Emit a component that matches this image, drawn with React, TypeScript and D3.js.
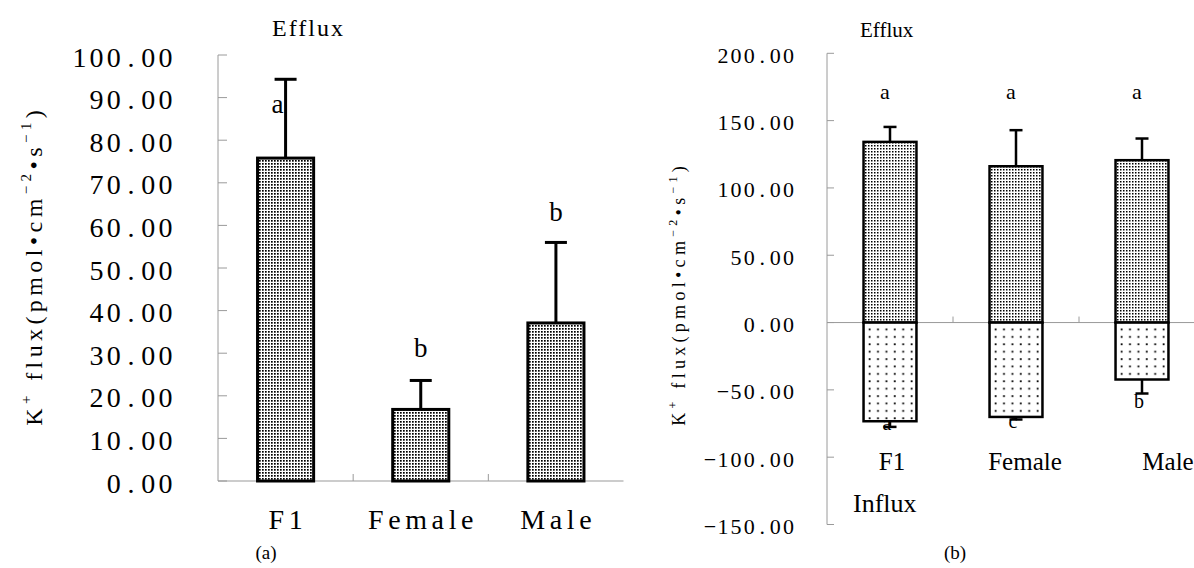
import React from "react";
import * as d3 from "d3";

// ---------- Data: panel (a) ----------
const categoriesA = ["F1", "Female", "Male"];
const effluxA = [75.8, 16.8, 37.1];
const effluxErrA = [18.5, 6.8, 18.9];
const lettersA = ["a", "b", "b"];
const letterValueA = [86.4, 29.2, 61.0];
const ticksA = [0, 10, 20, 30, 40, 50, 60, 70, 80, 90, 100];

// ---------- Data: panel (b) ----------
const categoriesB = ["F1", "Female", "Male"];
const effluxB = [134.2, 116.1, 120.6];
const effluxErrB = [11.1, 26.8, 16.1];
const influxB = [-73.3, -70.1, -42.3];
const influxErrB = [4.2, 1.9, 10.4];
const lettersBTop = ["a", "a", "a"];
const letterValueBTop = [165.9, 165.9, 165.9];
const lettersBBottom = ["a", "c", "b"];
const letterValueBBottom = [-79.5, -78.5, -63.7];
const ticksB = [200, 150, 100, 50, 0, -50, -100, -150];

const FONT = "Liberation Serif";
const fmt = d3.format(".2f");

type Seg = { t: string; sup?: boolean };
const yLabelSegs: Seg[] = [
  { t: "K" },
  { t: "+", sup: true },
  { t: " flux(pmol•cm" },
  { t: "−2", sup: true },
  { t: "•s" },
  { t: "−1", sup: true },
  { t: ")" },
];

function MonoText(props: {
  text: string;
  x: number;
  y: number;
  pitch: number;
  fontSize: number;
}) {
  const { text, x, y, pitch, fontSize } = props;
  const chars = Array.from(text);
  const n = chars.length;
  const xs = chars.map((_, i) => x - pitch * (n - i - 0.5));
  return (
    <text
      x={xs.join(" ")}
      y={y}
      textAnchor="middle"
      fontFamily={FONT}
      fontSize={fontSize}
      fill="#000"
    >
      {text}
    </text>
  );
}

function RotLabel(props: {
  bx: number;
  cy: number;
  fontSize: number;
  supSize: number;
  supShift: number;
  ls: number;
}) {
  const { bx, cy, fontSize, supSize, supShift, ls } = props;
  let cur = 0;
  return (
    <g transform={`translate(${bx + 0},${cy}) rotate(-90)`}>
      <text
        x={ls / 2}
        y={0}
        textAnchor="middle"
        fontFamily={FONT}
        fontSize={fontSize}
        letterSpacing={ls}
        fill="#000"
        style={{ whiteSpace: "pre" }}
      >
        {yLabelSegs.map((s, i) => {
          const target = s.sup ? -supShift : 0;
          const dy = target - cur;
          cur = target;
          return (
            <tspan key={i} dy={dy} fontSize={s.sup ? supSize : fontSize}>
              {s.t}
            </tspan>
          );
        })}
      </text>
    </g>
  );
}

export default function App() {
  // ---- panel (a) scales ----
  const xA = d3.scaleBand<string>().domain(categoriesA).range([218, 623.5]);
  const yA = d3.scaleLinear().domain([0, 100]).range([481, 55]);
  const bwA = xA.bandwidth() * 0.415;

  // ---- panel (b) scales ----
  const xB = d3.scaleBand<string>().domain(categoriesB).range([827, 1205]);
  const yB = d3.scaleLinear().domain([-150, 200]).range([524.5, 53.3]);
  const bwB = xB.bandwidth() * 0.42;
  const axisGray = "#9a9a9a";
  const labelShiftB = [2, 9, 26];
  const lsX = 4.6;

  return (
    <svg
      width={1194}
      height={568}
      style={{ position: "absolute", left: 0, top: 0, background: "#fff" }}
    >
      <defs>
        <pattern id="denseA" width={3} height={3} patternUnits="userSpaceOnUse">
          <rect width={3} height={3} fill="#fff" />
          <rect x={1} y={1} width={1.7} height={1.7} fill="#000" />
        </pattern>
        <pattern id="denseB" width={3} height={3} patternUnits="userSpaceOnUse">
          <rect width={3} height={3} fill="#fff" />
          <rect x={1} y={1} width={1.5} height={1.5} fill="#000" />
        </pattern>
        <pattern id="sparseB" width={8.4} height={7.4} patternUnits="userSpaceOnUse">
          <rect width={8.4} height={7.4} fill="#fff" />
          <rect x={3.5} y={3} width={1.8} height={1.8} fill="#000" />
        </pattern>
      </defs>

      {/* ================= Panel (a) ================= */}
      <text x={272} y={36} fontFamily={FONT} fontSize={24} letterSpacing={2}>
        Efflux
      </text>
      {/* y axis */}
      <line x1={218} x2={218} y1={yA(100)} y2={yA(0)} stroke={axisGray} strokeWidth={1} />
      {ticksA.map((t) => (
        <g key={t}>
          <line x1={218} x2={227} y1={yA(t)} y2={yA(t)} stroke={axisGray} strokeWidth={1} />
          <MonoText text={fmt(t)} x={174} y={yA(t) + 11.5} pitch={17.2} fontSize={28} />
        </g>
      ))}
      {/* x axis */}
      <line x1={218} x2={623.5} y1={yA(0)} y2={yA(0)} stroke={axisGray} strokeWidth={1.2} />
      {categoriesA.slice(1).map((c) => (
        <line
          key={c}
          x1={xA(c)!}
          x2={xA(c)!}
          y1={yA(0)}
          y2={yA(0) - 7}
          stroke={axisGray}
          strokeWidth={1}
        />
      ))}
      {categoriesA.map((c, i) => {
        const cx = xA(c)! + xA.bandwidth() / 2;
        const top = yA(effluxA[i]);
        const errTop = yA(effluxA[i] + effluxErrA[i]);
        return (
          <g key={c}>
            <line x1={cx} x2={cx} y1={top} y2={errTop} stroke="#000" strokeWidth={3} />
            <line x1={cx - 11} x2={cx + 11} y1={errTop} y2={errTop} stroke="#000" strokeWidth={3} />
            <rect
              x={cx - bwA / 2}
              y={top}
              width={bwA}
              height={yA(0) - top}
              fill="url(#denseA)"
              stroke="#000"
              strokeWidth={3}
            />
            <text
              x={cx + (i === 0 ? -8 : 0)}
              y={yA(letterValueA[i])}
              textAnchor="middle"
              fontFamily={FONT}
              fontSize={27}
            >
              {lettersA[i]}
            </text>
            <text
              x={cx + lsX / 2}
              y={529}
              textAnchor="middle"
              fontFamily={FONT}
              fontSize={28}
              letterSpacing={lsX}
            >
              {c}
            </text>
          </g>
        );
      })}
      <RotLabel bx={42} cy={268} fontSize={24} supSize={15} supShift={11} ls={4.4} />
      <text x={266} y={559} textAnchor="middle" fontFamily={FONT} fontSize={19}>
        (a)
      </text>

      {/* ================= Panel (b) ================= */}
      <text x={860} y={37} fontFamily={FONT} fontSize={21}>
        Efflux
      </text>
      <line x1={827} x2={827} y1={yB(200)} y2={yB(-150)} stroke={axisGray} strokeWidth={1} />
      {ticksB.map((t) => (
        <g key={t}>
          <line x1={827} x2={834} y1={yB(t)} y2={yB(t)} stroke={axisGray} strokeWidth={1} />
          <MonoText text={fmt(t)} x={795} y={yB(t) + 9.5} pitch={13.1} fontSize={22} />
        </g>
      ))}
      <line x1={827} x2={1194} y1={yB(0)} y2={yB(0)} stroke={axisGray} strokeWidth={1} />
      {categoriesB.slice(1).map((c) => (
        <line
          key={c}
          x1={xB(c)!}
          x2={xB(c)!}
          y1={yB(0)}
          y2={yB(0) - 6}
          stroke={axisGray}
          strokeWidth={1}
        />
      ))}
      {categoriesB.map((c, i) => {
        const cx = xB(c)! + xB.bandwidth() / 2;
        const top = yB(effluxB[i]);
        const errTop = yB(effluxB[i] + effluxErrB[i]);
        const bot = yB(influxB[i]);
        const errBot = yB(influxB[i] - influxErrB[i]);
        return (
          <g key={c}>
            <line x1={cx} x2={cx} y1={top} y2={errTop} stroke="#000" strokeWidth={2.5} />
            <line x1={cx - 6.5} x2={cx + 6.5} y1={errTop} y2={errTop} stroke="#000" strokeWidth={2.5} />
            <line x1={cx} x2={cx} y1={bot} y2={errBot} stroke="#000" strokeWidth={2.5} />
            <line x1={cx - 6.5} x2={cx + 6.5} y1={errBot} y2={errBot} stroke="#000" strokeWidth={2.5} />
            <rect
              x={cx - bwB / 2}
              y={top}
              width={bwB}
              height={yB(0) - top}
              fill="url(#denseB)"
              stroke="#000"
              strokeWidth={2.5}
            />
            <rect
              x={cx - bwB / 2}
              y={yB(0)}
              width={bwB}
              height={bot - yB(0)}
              fill="url(#sparseB)"
              stroke="#000"
              strokeWidth={2.5}
            />
            <text x={cx - 5} y={yB(letterValueBTop[i])} textAnchor="middle" fontFamily={FONT} fontSize={22}>
              {lettersBTop[i]}
            </text>
            <text x={cx - 3} y={yB(letterValueBBottom[i])} textAnchor="middle" fontFamily={FONT} fontSize={20}>
              {lettersBBottom[i]}
            </text>
            <text
              x={cx + labelShiftB[i]}
              y={470}
              textAnchor="middle"
              fontFamily={FONT}
              fontSize={25}
            >
              {c}
            </text>
          </g>
        );
      })}
      <text x={853} y={512} fontFamily={FONT} fontSize={26}>
        Influx
      </text>
      <RotLabel bx={685} cy={296} fontSize={18} supSize={12} supShift={8} ls={4.3} />
      <text x={955} y={559} textAnchor="middle" fontFamily={FONT} fontSize={19}>
        (b)
      </text>
    </svg>
  );
}
